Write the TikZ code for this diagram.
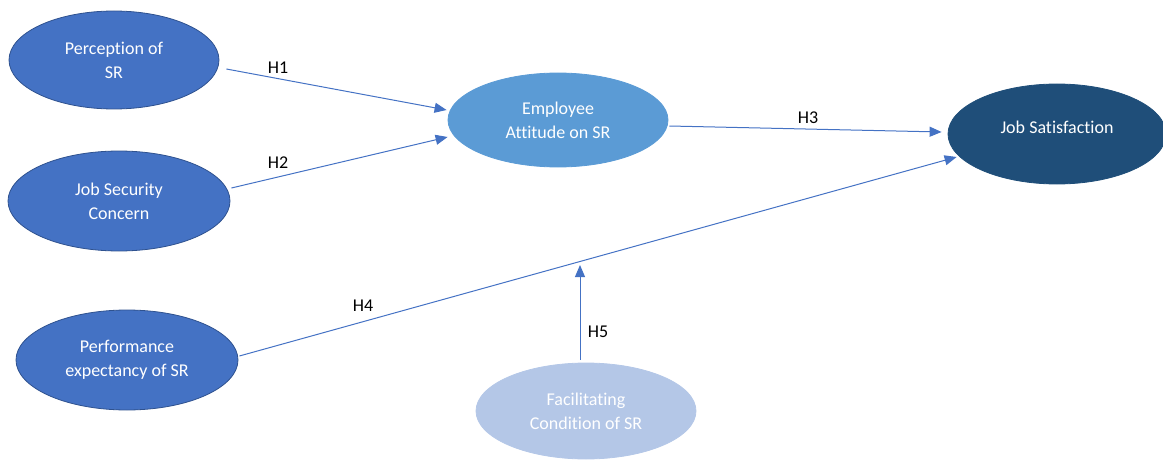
\documentclass[tikz,border=0pt]{standalone}
\usepackage{fontspec}
\setmainfont{Carlito}[Ligatures={NoCommon,NoContextual,NoRequired}]
\usetikzlibrary{shapes.geometric,arrows.meta}
\definecolor{medblue}{HTML}{4472C4}
\definecolor{medborder}{HTML}{2F528F}
\definecolor{ltblue}{HTML}{5B9BD5}
\definecolor{ltborder}{HTML}{5B9BD5}
\definecolor{navy}{HTML}{1F4E79}
\definecolor{pale}{HTML}{B4C7E7}
\definecolor{arrowblue}{HTML}{4472C4}
\begin{document}
\begin{tikzpicture}[x=1pt,y=-1pt,
  oval/.style={ellipse, inner sep=0pt, text=white, align=center,
    font=\fontsize{18}{24}\selectfont, line width=0.8pt},
  darkoval/.style={oval, fill=medblue, draw=medborder},
  arr/.style={draw=arrowblue, line width=1pt, -{Triangle[length=12pt,width=10pt]}},
  hlabel/.style={inner sep=0pt, font=\fontsize{18}{24}\selectfont, text=black}]
\useasboundingbox (0,0) rectangle (1163,460);

\node[darkoval, minimum width=210pt, minimum height=98pt] (p1) at (114,60) {Perception of\\SR};
\node[darkoval, minimum width=222pt, minimum height=100pt] (p2) at (119,201) {Job Security\\Concern};
\node[darkoval, minimum width=222pt, minimum height=100pt] (p4) at (127,360) {Performance\\expectancy of SR};
\node[oval, fill=ltblue, draw=ltborder, minimum width=220pt, minimum height=94pt] (ea) at (558,120) {Employee\\At{}ti{}tude on SR};
\node[oval, fill=navy, draw=navy, minimum width=218pt, minimum height=100pt,
  label={[text=white, font=\fontsize{18}{24}\selectfont, yshift=7pt]center:Job Satisfaction}] (js) at (1057,134) {};
\node[oval, fill=pale, draw=pale, minimum width=220pt, minimum height=96pt] (fc) at (586,411) {Facilita{}ting\\Condi{}tion of SR};

\coordinate (h5end) at (580,265);

\draw[arr] ([shift={(7,9)}]p1.east) -- ([shift={(-1,-10)}]ea.west);
\draw[arr] ([shift={(1,-13)}]p2.east) -- ([shift={(0,17)}]ea.west);
\draw[arr] ([shift={(1,6)}]ea.east) -- ([shift={(-6,-2)}]js.west);
\draw[arr] ([shift={(1,-4)}]p4.east) -- ([shift={(9,23)}]js.west);
\draw[arr] ([shift={(-6,-3)}]fc.north) -- (h5end);

\node[hlabel] (l1) at (278,68) {H1};
\node[hlabel] (l2) at (278,163) {H2};
\node[hlabel] (l3) at (808,118) {H3};
\node[hlabel] (l4) at (363,306) {H4};
\node[hlabel] (l5) at (598,332) {H5};
\end{tikzpicture}
\end{document}
